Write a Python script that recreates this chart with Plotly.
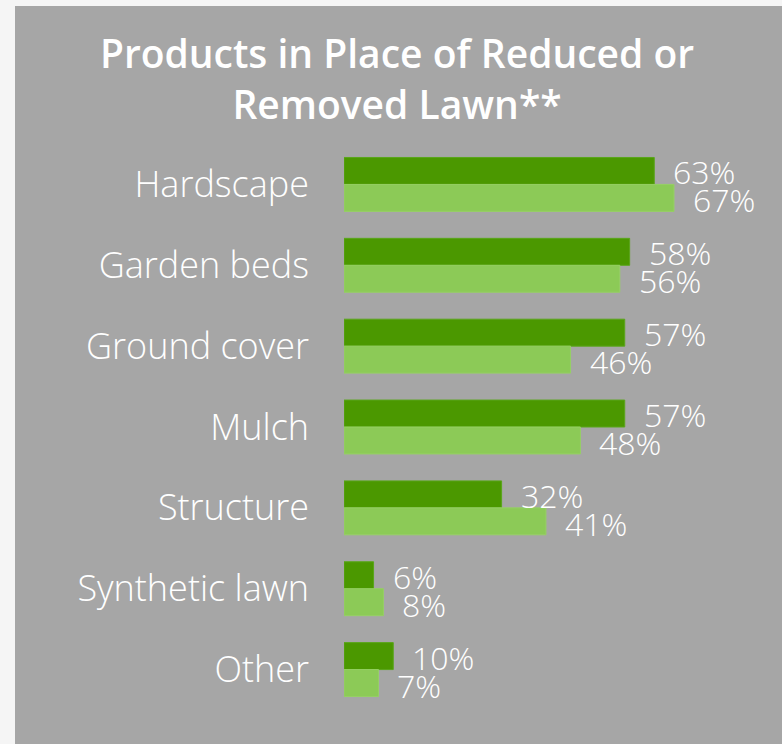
import plotly.graph_objects as go

# Survey results: share of respondents using each product in place of lawn
categories = ["Hardscape", "Garden beds", "Ground cover", "Mulch",
              "Structure", "Synthetic lawn", "Other"]
series_a = [63, 58, 57, 57, 32, 6, 10]   # dark green bars
series_b = [67, 56, 46, 48, 41, 8, 7]    # light green bars

DARK = "#4b9800"
LIGHT = "#8cca57"
PANEL = "#a6a6a6"
PAGE = "#f5f5f5"
FONT = "Open Sans"

fig = go.Figure()
fig.add_trace(go.Bar(y=categories, x=series_a, orientation="h",
                     marker=dict(color=DARK, line=dict(color="#5aa61a", width=1)),
                     hoverinfo="x+y", name="A"))
fig.add_trace(go.Bar(y=categories, x=series_b, orientation="h",
                     marker=dict(color=LIGHT, line=dict(color="#96d064", width=1)),
                     hoverinfo="x+y", name="B"))

label_font = dict(family=FONT, size=32, color="white", weight=300)
annotations = []
for i, (a, b) in enumerate(zip(series_a, series_b)):
    annotations.append(dict(x=a, y=i - 1/6, xref="x", yref="y", text=f"{a}%",
                            showarrow=False, xanchor="left", xshift=17, yshift=-1,
                            font=label_font))
    annotations.append(dict(x=b, y=i + 1/6, xref="x", yref="y", text=f"{b}%",
                            showarrow=False, xanchor="left", xshift=17, yshift=-2,
                            font=label_font))

W, H = 782, 744
ML, MR, MT, MB = 344, 44, 144, 34
pw = W - ML - MR
ph = H - MT - MB

fig.update_layout(
    width=W, height=H,
    margin=dict(l=ML, r=MR, t=MT, b=MB),
    paper_bgcolor=PAGE,
    plot_bgcolor="rgba(0,0,0,0)",
    barmode="group",
    bargap=1/3,
    bargroupgap=0,
    showlegend=False,
    title=dict(text="Products in Place of Reduced or<br>Removed Lawn**",
               x=397 / W, xref="container", xanchor="center",
               y=1 - 68 / H, yref="container", yanchor="top",
               font=dict(family=FONT, size=39, color="white", weight=600)),
    xaxis=dict(range=[0, 80], visible=False, fixedrange=True),
    yaxis=dict(autorange="reversed", showgrid=False, zeroline=False, showline=False,
               ticks="", ticklabelstandoff=34,
               tickfont=dict(family=FONT, size=36, color="white", weight=300)),
    annotations=annotations,
    shapes=[dict(type="rect", xref="paper", yref="paper", layer="below",
                 x0=(15 - ML) / pw, x1=(W - ML) / pw,
                 y0=-MB / ph, y1=(H - MB - 6) / ph,
                 fillcolor=PANEL, line=dict(width=0))],
)

fig.write_html("out.html")
